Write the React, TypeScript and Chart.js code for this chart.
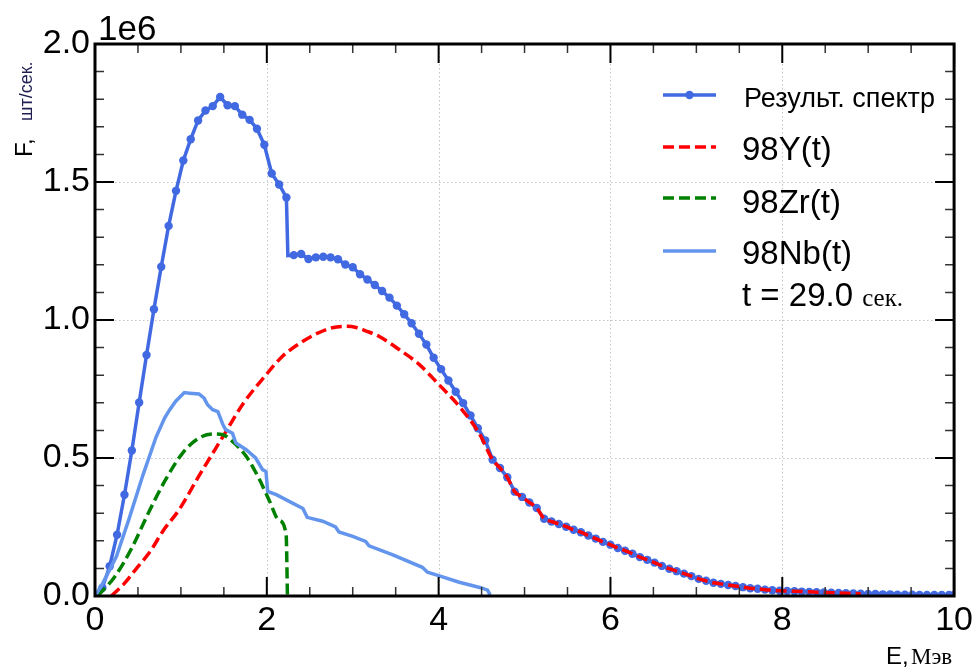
import React, { useEffect, useRef } from 'react';
import { Chart, registerables } from 'chart.js';

Chart.register(...registerables);

// ---- data (F in units of 1e6 шт/сек, E in МэВ) ----
const sumE = [
  0, 0.086, 0.171, 0.257, 0.343, 0.429, 0.514, 0.6, 0.686, 0.771,
  0.857, 0.943, 1.028, 1.114, 1.2, 1.286, 1.371, 1.457, 1.543, 1.628,
  1.714, 1.8, 1.885, 1.971, 2.057, 2.143, 2.228, 2.245, 2.314, 2.4,
  2.485, 2.571, 2.657, 2.742, 2.828, 2.914, 3.0, 3.085, 3.171, 3.257,
  3.342, 3.428, 3.514, 3.599, 3.685, 3.771, 3.857, 3.942, 4.028, 4.114,
  4.199, 4.285, 4.371, 4.456, 4.542, 4.628, 4.714, 4.799, 4.885, 4.971,
  5.056, 5.142, 5.228, 5.313, 5.399, 5.485, 5.571, 5.656, 5.742, 5.828,
  5.913, 5.999, 6.085, 6.17, 6.256, 6.342, 6.428, 6.513, 6.599, 6.685,
  6.77, 6.856, 6.942, 7.027, 7.113, 7.199, 7.285, 7.37, 7.456, 7.542,
  7.627, 7.713, 7.799, 7.884, 7.97, 8.056, 8.142, 8.227, 8.313, 8.399,
  8.484, 8.57, 8.656, 8.741, 8.827, 8.913, 8.999, 9.084, 9.17, 9.256,
  9.341, 9.427, 9.513, 9.598, 9.684, 9.77, 9.856, 9.941, 10.0,
];
const sumF = [
  0.0, 0.03, 0.108, 0.222, 0.367, 0.527, 0.701, 0.873, 1.039, 1.193,
  1.341, 1.468, 1.578, 1.655, 1.723, 1.759, 1.775, 1.808, 1.778, 1.775,
  1.744, 1.725, 1.693, 1.635, 1.531, 1.491, 1.444, 1.233, 1.235, 1.239,
  1.221, 1.227, 1.229, 1.227, 1.22, 1.201, 1.191, 1.166, 1.147, 1.127,
  1.105, 1.081, 1.052, 1.021, 0.988, 0.95, 0.911, 0.863, 0.822, 0.781,
  0.74, 0.699, 0.654, 0.608, 0.564, 0.494, 0.464, 0.43, 0.378, 0.359,
  0.339, 0.319, 0.28, 0.27, 0.261, 0.251, 0.24, 0.231, 0.219, 0.208,
  0.196, 0.186, 0.174, 0.164, 0.153, 0.141, 0.131, 0.121, 0.109, 0.099,
  0.09, 0.081, 0.072, 0.062, 0.055, 0.048, 0.044, 0.04, 0.036, 0.032,
  0.028, 0.026, 0.023, 0.021, 0.019, 0.018, 0.017, 0.016, 0.015, 0.014,
  0.013, 0.012, 0.011, 0.01, 0.009, 0.008, 0.007, 0.007, 0.006, 0.006,
  0.005, 0.005, 0.005, 0.004, 0.004, 0.004, 0.004, 0.004, 0.004,
];
// index of the step corner that carries no marker
const sumCornerIndex = 27;

const yE = [
  0.19, 0.34, 0.47, 0.65, 0.79, 0.98, 1.21, 1.49, 1.72, 1.99,
  2.18, 2.38, 2.57, 2.76, 2.92, 3.04, 3.15, 3.31, 3.54, 3.77,
  4.0, 4.24, 4.47, 4.628, 4.714, 4.799, 4.885, 4.971, 5.056, 5.142,
  5.228, 5.313, 5.399, 5.485, 5.571, 5.656, 5.742, 5.828, 5.913, 5.999,
  6.085, 6.17, 6.256, 6.342, 6.428, 6.513, 6.599, 6.685, 6.77, 6.856,
  6.942, 7.027, 7.113, 7.199, 7.285, 7.37, 7.456, 7.542, 7.627, 7.713,
  7.799, 7.884, 7.97, 8.056, 8.142, 8.227, 8.313, 8.399, 8.484, 8.57,
  8.656, 8.741, 8.827, 8.913,
];
const yF = [
  0.0, 0.045, 0.095, 0.165, 0.235, 0.313, 0.435, 0.578, 0.695, 0.801,
  0.868, 0.915, 0.949, 0.972, 0.977, 0.973, 0.961, 0.94, 0.893, 0.84,
  0.767, 0.687, 0.59, 0.494, 0.464, 0.43, 0.378, 0.359, 0.339, 0.319,
  0.28, 0.27, 0.261, 0.251, 0.24, 0.231, 0.219, 0.208, 0.196, 0.186,
  0.174, 0.164, 0.153, 0.141, 0.131, 0.121, 0.109, 0.099, 0.09, 0.081,
  0.072, 0.062, 0.055, 0.048, 0.044, 0.04, 0.036, 0.032, 0.028, 0.026,
  0.023, 0.021, 0.019, 0.018, 0.017, 0.016, 0.015, 0.014, 0.013, 0.012,
  0.011, 0.01, 0.009, 0.008,
];

const zrE = [0.03, 0.23, 0.43, 0.62, 0.81, 1.02, 1.21, 1.37, 1.49, 1.6, 1.76, 1.91, 2.03, 2.14, 2.225, 2.24];
const zrF = [0.0, 0.07, 0.175, 0.3, 0.415, 0.518, 0.572, 0.587, 0.584, 0.56, 0.506, 0.425, 0.345, 0.275, 0.222, 0.0];

const nbE = [
  0.0, 0.09, 0.25, 0.4, 0.56, 0.71, 0.81, 0.87, 0.94, 1.04,
  1.1, 1.21, 1.27, 1.31, 1.37, 1.43, 1.49, 1.52, 1.6, 1.64,
  1.76, 1.87, 1.95, 1.99, 2.01, 2.11, 2.26, 2.42, 2.47, 2.65,
  2.8, 2.84, 3.0, 3.15, 3.19, 3.46, 3.81, 3.87, 4.0, 4.24,
  4.49, 4.57, 4.6,
];
const nbF = [
  0.0, 0.046, 0.144, 0.283, 0.44, 0.575, 0.645, 0.675, 0.706, 0.737,
  0.735, 0.732, 0.717, 0.693, 0.675, 0.668, 0.62, 0.603, 0.59, 0.554,
  0.53, 0.5, 0.458, 0.451, 0.379, 0.367, 0.343, 0.317, 0.285, 0.271,
  0.25, 0.232, 0.216, 0.198, 0.182, 0.15, 0.104, 0.086, 0.074, 0.05,
  0.03, 0.021, 0.003,
];

const xTicks = [0, 2, 4, 6, 8, 10];
const yTicks = [0, 0.5, 1.0, 1.5, 2.0];
const seriesLabels = ['Результ. спектр', '98Y(t)', '98Zr(t)', '98Nb(t)'];
const timeText = 't = 29.0';
const timeUnit = 'сек.';
const yMultiplier = '1e6';
const yTitleMain = 'F,';
const yTitleUnit = 'шт/сек.';
const xTitleMain = 'E,';
const xTitleUnit = 'Мэв';

const SANS = '"Liberation Sans", Arial, sans-serif';
const SERIF = '"Liberation Serif", "Times New Roman", serif';
const C_SUM = '#4169E1';
const C_Y = '#FF0000';
const C_ZR = '#008000';
const C_NB = '#6495ED';

const toPts = (xs: number[], ys: number[]) => xs.map((x, i) => ({ x, y: ys[i] }));

const decorPlugin = {
  id: 'decor',
  beforeDatasetsDraw(chart: any) {
    const { ctx, chartArea: a, scales } = chart;
    const x = scales.x, y = scales.y;
    ctx.save();
    ctx.strokeStyle = '#c4c4c4';
    ctx.lineWidth = 1;
    ctx.setLineDash([1.5, 2.5]);
    for (const v of xTicks) {
      if (v <= 0 || v >= 10) continue;
      const px = Math.round(x.getPixelForValue(v)) + 0.5;
      ctx.beginPath(); ctx.moveTo(px, a.top); ctx.lineTo(px, a.bottom); ctx.stroke();
    }
    for (const v of yTicks) {
      if (v <= 0 || v >= 2) continue;
      const py = Math.round(y.getPixelForValue(v)) + 0.5;
      ctx.beginPath(); ctx.moveTo(a.left, py); ctx.lineTo(a.right, py); ctx.stroke();
    }
    ctx.restore();
  },
  afterDatasetsDraw(chart: any) {
    const { ctx, chartArea: a, scales } = chart;
    const x = scales.x, y = scales.y;
    ctx.save();
    ctx.setLineDash([]);
    for (let i = 0; i <= 20; i++) {
      const v = i * 0.5;
      const major = i % 4 === 0;
      const len = major ? 19 : 9;
      const px = x.getPixelForValue(v);
      ctx.strokeStyle = major ? '#000' : '#333';
      ctx.lineWidth = major ? 2 : 1.5;
      ctx.beginPath();
      ctx.moveTo(px, a.bottom); ctx.lineTo(px, a.bottom - len);
      ctx.moveTo(px, a.top); ctx.lineTo(px, a.top + len);
      ctx.stroke();
    }
    for (let i = 0; i <= 20; i++) {
      const v = i * 0.1;
      const major = i % 5 === 0;
      const len = major ? 19 : 9;
      const py = y.getPixelForValue(v);
      ctx.strokeStyle = major ? '#000' : '#333';
      ctx.lineWidth = major ? 2 : 1.5;
      ctx.beginPath();
      ctx.moveTo(a.left, py); ctx.lineTo(a.left + len, py);
      ctx.moveTo(a.right, py); ctx.lineTo(a.right - len, py);
      ctx.stroke();
    }
    ctx.strokeStyle = '#000';
    ctx.lineWidth = 3;
    ctx.strokeRect(a.left, a.top, a.right - a.left, a.bottom - a.top);
    ctx.restore();
  },
  afterDraw(chart: any) {
    const { ctx, chartArea: a } = chart;
    ctx.save();
    ctx.fillStyle = '#000';
    ctx.textBaseline = 'alphabetic';
    ctx.textAlign = 'left';
    ctx.font = `35px ${SANS}`;
    ctx.fillText(yMultiplier, a.left + 3, 40);

    ctx.save();
    ctx.translate(32, 157);
    ctx.rotate(-Math.PI / 2);
    ctx.font = `24px ${SANS}`;
    ctx.fillText(yTitleMain, 0, 0);
    ctx.font = `18px ${SANS}`;
    ctx.fillStyle = '#1e1e50';
    ctx.fillText(yTitleUnit, 36, 0);
    ctx.restore();

    ctx.font = `24px ${SANS}`;
    ctx.fillText(xTitleMain, 886, 664);
    ctx.font = `23px ${SERIF}`;
    ctx.fillText(xTitleUnit, 911, 664);

    const lx0 = 663, lx1 = 716;
    const rows = [
      { y: 95, color: C_SUM, dash: [] as number[], dot: true, label: seriesLabels[0], base: 106.5, font: `27px ${SANS}`, tx: 744 },
      { y: 147, color: C_Y, dash: [11, 5], dot: false, label: seriesLabels[1], base: 160, font: `33px ${SANS}`, tx: 742 },
      { y: 198, color: C_ZR, dash: [11, 5], dot: false, label: seriesLabels[2], base: 212.5, font: `33px ${SANS}`, tx: 742 },
      { y: 251, color: C_NB, dash: [] as number[], dot: false, label: seriesLabels[3], base: 263.5, font: `33px ${SANS}`, tx: 742 },
    ];
    for (const r of rows) {
      ctx.strokeStyle = r.color;
      ctx.lineWidth = 3.5;
      ctx.setLineDash(r.dash);
      ctx.beginPath(); ctx.moveTo(lx0, r.y); ctx.lineTo(lx1, r.y); ctx.stroke();
      ctx.setLineDash([]);
      if (r.dot) {
        ctx.fillStyle = r.color;
        ctx.beginPath(); ctx.arc((lx0 + lx1) / 2, r.y, 4.2, 0, Math.PI * 2); ctx.fill();
      }
      ctx.fillStyle = '#000';
      ctx.font = r.font;
      ctx.fillText(r.label, r.tx, r.base);
    }
    ctx.font = `33px ${SANS}`;
    ctx.fillText(timeText, 742, 306);
    const w = ctx.measureText(timeText + ' ').width;
    ctx.font = `25px ${SERIF}`;
    ctx.fillText(timeUnit, 742 + w, 306);
    ctx.restore();
  },
};

export default function App() {
  const ref = useRef<HTMLCanvasElement | null>(null);
  useEffect(() => {
    if (!ref.current) return;
    const tickFont = { family: SANS, size: 34 };
    const chart = new Chart(ref.current, {
      type: 'line',
      data: {
        datasets: [
          {
            label: seriesLabels[3], data: toPts(nbE, nbF), borderColor: C_NB, borderWidth: 3.5,
            pointRadius: 0, fill: false, order: 1,
          },
          {
            label: seriesLabels[2], data: toPts(zrE, zrF), borderColor: C_ZR, borderWidth: 3.5,
            borderDash: [11, 5], pointRadius: 0, fill: false, order: 2, cubicInterpolationMode: 'monotone',
          },
          {
            label: seriesLabels[1], data: toPts(yE, yF), borderColor: C_Y, borderWidth: 3.5,
            borderDash: [11, 5], pointRadius: 0, fill: false, order: 3, cubicInterpolationMode: 'monotone',
          },
          {
            label: seriesLabels[0], data: toPts(sumE, sumF), borderColor: C_SUM, backgroundColor: C_SUM,
            borderWidth: 3.5, pointRadius: (c: any) => (c.dataIndex === sumCornerIndex ? 0 : 4.2),
            pointBorderWidth: 0, pointBackgroundColor: C_SUM, fill: false, order: 4,
          },
        ],
      } as any,
      options: {
        responsive: false,
        animation: false,
        events: [],
        layout: { padding: { top: 44, right: 21, left: 0, bottom: 0 } },
        plugins: { legend: { display: false }, tooltip: { enabled: false } },
        scales: {
          x: {
            type: 'linear', min: 0, max: 10,
            afterBuildTicks: (s: any) => { s.ticks = xTicks.map((v) => ({ value: v })); },
            afterFit: (s: any) => { s.height = 74; },
            ticks: { font: tickFont, color: '#000', padding: 4, maxRotation: 0, autoSkip: false, callback: (v: any) => String(v) },
            grid: { drawOnChartArea: false, drawTicks: false },
            border: { display: false },
          },
          y: {
            type: 'linear', min: 0, max: 2,
            afterBuildTicks: (s: any) => { s.ticks = yTicks.map((v) => ({ value: v })); },
            afterFit: (s: any) => { s.width = 95; },
            ticks: { font: tickFont, color: '#000', padding: 5, autoSkip: false, callback: (v: any) => Number(v).toFixed(1) },
            grid: { drawOnChartArea: false, drawTicks: false },
            border: { display: false },
          },
        },
      } as any,
      plugins: [decorPlugin],
    });
    return () => chart.destroy();
  }, []);
  return (
    <div style={{ position: 'fixed', left: 0, top: 0, width: 977, height: 670, background: '#fff' }}>
      <canvas ref={ref} width={977} height={670} />
    </div>
  );
}
